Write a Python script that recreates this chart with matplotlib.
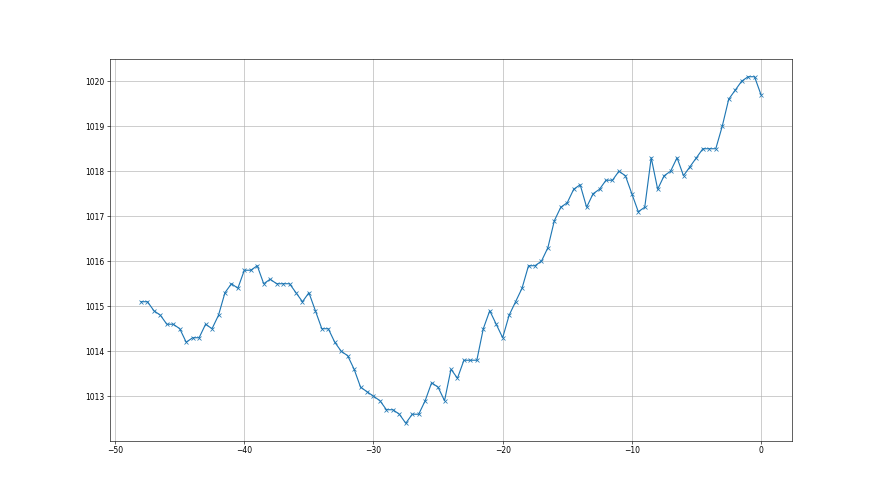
import numpy as np
import matplotlib
matplotlib.use("Agg")
import matplotlib.pyplot as plt

# hours before now, every half hour
hours = np.arange(-48, 0.5, 0.5)

# pressure readings (hPa)
pressure = [
    1015.1, 1015.1, 1014.9, 1014.8, 1014.6, 1014.6, 1014.5, 1014.2, 1014.3, 1014.3,
    1014.6, 1014.5, 1014.8, 1015.3, 1015.5, 1015.4, 1015.8, 1015.8, 1015.9, 1015.5,
    1015.6, 1015.5, 1015.5, 1015.5, 1015.3, 1015.1, 1015.3, 1014.9, 1014.5, 1014.5,
    1014.2, 1014.0, 1013.9, 1013.6, 1013.2, 1013.1, 1013.0, 1012.9, 1012.7, 1012.7,
    1012.6, 1012.4, 1012.6, 1012.6, 1012.9, 1013.3, 1013.2, 1012.9, 1013.6, 1013.4,
    1013.8, 1013.8, 1013.8, 1014.5, 1014.9, 1014.6, 1014.3, 1014.8, 1015.1, 1015.4,
    1015.9, 1015.9, 1016.0, 1016.3, 1016.9, 1017.2, 1017.3, 1017.6, 1017.7, 1017.2,
    1017.5, 1017.6, 1017.8, 1017.8, 1018.0, 1017.9, 1017.5, 1017.1, 1017.2, 1018.3,
    1017.6, 1017.9, 1018.0, 1018.3, 1017.9, 1018.1, 1018.3, 1018.5, 1018.5, 1018.5,
    1019.0, 1019.6, 1019.8, 1020.0, 1020.1, 1020.1, 1019.7,
]

fig, ax = plt.subplots(figsize=(16, 9), dpi=55)
ax.plot(hours, pressure, marker='x', color='#1f77b4')
ax.grid(True)
ax.ticklabel_format(useOffset=False)

fig.savefig('out.png', dpi=55)
